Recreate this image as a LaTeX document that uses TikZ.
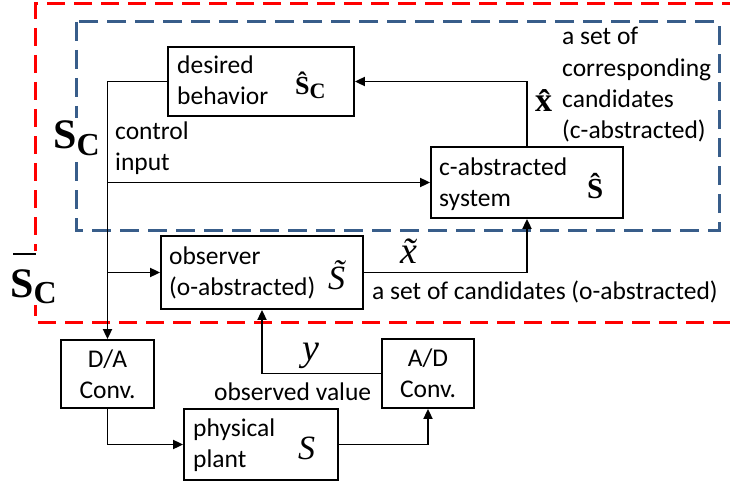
\documentclass[tikz,border=0pt]{standalone}
\usepackage{fontspec}
\setmainfont{Carlito}
\newfontfamily\ser{Liberation Serif}
\usetikzlibrary{arrows.meta}
\definecolor{dred}{RGB}{255,0,0}
\definecolor{dblue}{RGB}{56,93,138}
\newcommand\fsz[2]{\fontsize{#1}{#2}\selectfont}
\begin{document}
\begin{tikzpicture}[x=1pt,y=-1pt,
  box/.style={draw, line width=1.8pt, inner sep=0pt},
  conn/.style={line width=1.8pt, -{Triangle[length=10pt,width=9pt]}},
  txt/.style={inner sep=0pt, anchor=base west, font=\fsz{25.5}{31}, align=left},
  ctxt/.style={inner sep=0pt, anchor=base, font=\fsz{25.5}{31}, align=center},
  sym/.style={inner sep=0pt, anchor=base west},
  reddash/.style={draw=dred, line width=3pt, dash pattern=on 18pt off 9pt},
  bluedash/.style={draw=dblue, line width=3pt, dash pattern=on 19pt off 9pt}]
\useasboundingbox (0,0) rectangle (730,484);
% dashed frames
\draw[reddash] (740,4) -- (35,4) -- (35,322) -- (740,322);
\draw[bluedash] (76,22) rectangle (719,230);
% boxes
\node[box, minimum width=186pt, minimum height=69pt] (des) at (261,81.5) {};
\node[box, minimum width=192pt, minimum height=71pt] (cabs) at (527,182.5) {};
\node[box, minimum width=202pt, minimum height=73pt] (obs) at (262,272.5) {};
\node[box, minimum width=93pt, minimum height=68pt] (da) at (107.5,374) {};
\node[box, minimum width=154pt, minimum height=71pt] (plant) at (261,444.5) {};
\node[box, minimum width=92pt, minimum height=69pt] (ad) at (428,373.5) {};
% box texts (base anchor = baseline of last line)
\node[txt] (tdes) at (177,105) {desired\\behavior};
\node[sym] (sdes) at (295,95) {\ser\bfseries\fsz{26}{26}\^S\raisebox{-4pt}{\fsz{22}{22}C}};
\node[txt] (tcabs) at (439,206) {c-abstracted\\system};
\node[sym] (scabs) at (587,198) {\ser\bfseries\fsz{29}{29}\^S};
\node[txt] (tobs) at (169,295) {observer\\(o-abstracted)};
\node[sym] (sobs) at (328,289) {\ser\itshape\fsz{34}{34}\~S};
\node[ctxt] (tda) at (107.5,398) {D/A\\Conv.};
\node[ctxt] (tad) at (428,397) {A/D\\Conv.};
\node[txt] (tplant) at (193,467) {physical\\plant};
\node[sym] (splant) at (298,459) {\ser\itshape\fsz{34}{34}S};
% connectors
\draw[conn] (des.west) -| (da.north);
\draw[conn] (da.north |- cabs.west) -- (cabs.west);
\draw[conn] (da.north |- obs.west) -- (obs.west);
\draw[conn] (cabs.north) |- (des.east);
\draw[conn] (obs.east) -| (cabs.south);
\draw[conn] (da.south) |- (plant.west);
\draw[conn] (plant.east) -| (ad.south);
\draw[conn] (ad.west) -| (obs.south);
% labels
\node[txt] (lctrl) at (115,170) {control\\input};
\node[sym] (lxhat) at (535,112) {\ser\bfseries\fsz{34}{34}\^x};
\node[txt] (lcset) at (562,138) {a set of\\corresponding\\candidates\\(c-abstracted)};
\node[sym] (lxtil) at (400,263) {\ser\itshape\fsz{38}{38}\~x};
\node[txt] (loset) at (372,299) {a set of candidates (o-abstracted)};
\node[sym] (ly) at (302,360) {\ser\itshape\fsz{38}{38}y};
\node[txt] (lobsv) at (214,400) {observed value};
\node[sym, fill=white, inner sep=2pt] (lsc) at (51,148) {\ser\bfseries\fsz{42}{42}S\raisebox{-7pt}{\fsz{32}{32}C}};
\node[sym, fill=white, inner sep=2pt] (lscbar) at (8,297) {\ser\bfseries\fsz{42}{42}\rlap{\hspace{3pt}\rule[42pt]{23pt}{2.5pt}}S\raisebox{-6pt}{\fsz{32}{32}C}};
\end{tikzpicture}
\end{document}
